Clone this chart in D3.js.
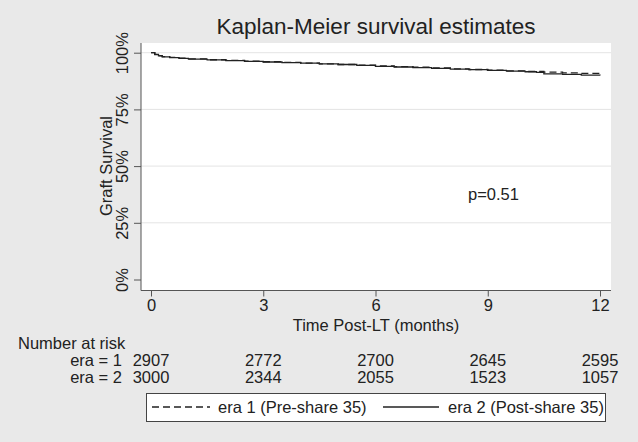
<!DOCTYPE html>
<html><head><meta charset="utf-8">
<script src="https://cdn.jsdelivr.net/npm/d3@7"></script>
<style>body{margin:0;background:#e9e9e9;}svg{display:block;font-family:"Liberation Sans",Arial,sans-serif;}</style>
</head><body>
<svg id="c" width="638" height="442"></svg>
<script>
// ---- data ----
const era1Time = [0,0.1,0.2,0.3,0.5,0.75,1,1.5,2,2.5,3,3.5,4,4.5,5,5.5,6,6.5,7,7.5,8,8.5,9,9.5,10,10.5,11,11.5,12];
const era1Surv = [1,0.993,0.987,0.983,0.979,0.976,0.973,0.969,0.966,0.963,0.960,0.957,0.954,0.951,0.948,0.945,0.942,0.939,0.936,0.933,0.929,0.926,0.923,0.920,0.917,0.914,0.911,0.909,0.906];
const era2Time = [0,0.1,0.2,0.3,0.5,0.75,1,1.5,2,2.5,3,3.5,4,4.5,5,5.5,6,6.5,7,7.5,8,8.5,9,9.5,10,10.3,10.5,11,11.5,12];
const era2Surv = [1,0.992,0.986,0.982,0.978,0.975,0.972,0.968,0.965,0.962,0.959,0.956,0.954,0.951,0.948,0.944,0.940,0.937,0.934,0.931,0.928,0.925,0.922,0.919,0.916,0.913,0.907,0.904,0.901,0.899];
const xTicks = [0,3,6,9,12];
const yTicks = [0,0.25,0.5,0.75,1];
const yTickLabels = ["0%","25%","50%","75%","100%"];
const riskLabels = ["era = 1","era = 2"];
const riskEra1 = [2907,2772,2700,2645,2595];
const riskEra2 = [3000,2344,2055,1523,1057];
const legendLabels = ["era 1 (Pre-share 35)","era 2 (Post-share 35)"];
const titleText = "Kaplan-Meier survival estimates";
const pText = "p=0.51";

// ---- drawing ----
const svg = d3.select("#c");
const ink = "#222";
const fs = 16.5;
const x = d3.scaleLinear().domain([0,12]).range([151,600]);
const y = d3.scaleLinear().domain([0,1]).range([279.5,52.7]);
const plot = {l:141, r:611, t:43, b:290.5};

svg.append("rect").attr("width",638).attr("height",442).attr("fill","#e9e9e9");
svg.append("rect").attr("x",plot.l).attr("y",plot.t).attr("width",plot.r-plot.l).attr("height",plot.b-plot.t).attr("fill","#fff");

// grid
svg.append("g").selectAll("line").data(yTicks.filter(d=>d>0)).join("line")
  .attr("x1",plot.l).attr("x2",plot.r).attr("y1",d=>y(d)).attr("y2",d=>y(d))
  .attr("stroke","#e4e4e4").attr("stroke-width",1);

// y axis
const yAxis = d3.axisLeft(y).tickValues(yTicks).tickSize(7).tickFormat((d,i)=>yTickLabels[i]);
const gy = svg.append("g").attr("transform",`translate(${plot.l},0)`).call(yAxis);
gy.select(".domain").attr("d",`M0,${plot.t}V${plot.b}`).attr("stroke","#555");
gy.selectAll(".tick line").attr("stroke","#555");
gy.selectAll(".tick text").attr("font-size",fs).attr("fill",ink)
  .attr("text-anchor","middle").attr("x",null).attr("y",null).attr("dy",0)
  .attr("transform","translate(-13,0) rotate(-90)");

// x axis
const xAxis = d3.axisBottom(x).tickValues(xTicks).tickSize(6).tickFormat(d3.format("d"));
const gx = svg.append("g").attr("transform",`translate(0,${plot.b})`).call(xAxis);
gx.select(".domain").attr("d",`M${plot.l},0H${plot.r}`).attr("stroke","#555");
gx.selectAll(".tick line").attr("stroke","#555");
gx.selectAll(".tick text").attr("font-size",fs).attr("fill",ink).attr("y",9).attr("dy","0.71em");

// titles
svg.append("text").attr("x",376).attr("y",34).attr("text-anchor","middle").attr("font-size",22.5).attr("fill",ink).text(titleText);
svg.append("text").attr("x",376).attr("y",331).attr("text-anchor","middle").attr("font-size",fs).attr("fill",ink).text("Time Post-LT (months)");
svg.append("text").attr("transform",`translate(112,166) rotate(-90)`).attr("text-anchor","middle").attr("font-size",fs).attr("fill",ink).text("Graft Survival");
svg.append("text").attr("x",468).attr("y",200).attr("font-size",fs).attr("fill",ink).text(pText);

// curves
const line = d3.line().x(d=>x(d[0])).y(d=>y(d[1])).curve(d3.curveStepAfter);
const s1 = era1Time.map((t,i)=>[t,era1Surv[i]]);
const s2 = era2Time.map((t,i)=>[t,era2Surv[i]]);
svg.append("path").datum(s2).attr("d",line).attr("fill","none").attr("stroke",ink).attr("stroke-width",1.3);
svg.append("path").datum(s1).attr("d",line).attr("fill","none").attr("stroke",ink).attr("stroke-width",1.3).attr("stroke-dasharray","7,4");

// number at risk
svg.append("text").attr("x",18).attr("y",349).attr("font-size",fs).attr("fill",ink).text("Number at risk");
[riskEra1,riskEra2].forEach((row,r)=>{
  const yy = 366 + r*17;
  svg.append("text").attr("x",122).attr("y",yy).attr("text-anchor","end").attr("font-size",fs).attr("fill",ink).text(riskLabels[r]);
  svg.append("g").selectAll("text").data(row).join("text")
    .attr("x",(d,i)=>x(xTicks[i])).attr("y",yy).attr("text-anchor","middle").attr("font-size",fs).attr("fill",ink).text(d=>d);
});

// legend
svg.append("rect").attr("x",146.5).attr("y",393.5).attr("width",459).attr("height",28).attr("fill","#fff").attr("stroke","#444");
svg.append("line").attr("x1",152).attr("x2",210).attr("y1",407).attr("y2",407).attr("stroke",ink).attr("stroke-width",1.3).attr("stroke-dasharray","7,4");
svg.append("text").attr("x",218).attr("y",413).attr("font-size",fs).attr("fill",ink).text(legendLabels[0]);
svg.append("line").attr("x1",383).attr("x2",439).attr("y1",407).attr("y2",407).attr("stroke",ink).attr("stroke-width",1.3);
svg.append("text").attr("x",448).attr("y",413).attr("font-size",fs).attr("fill",ink).text(legendLabels[1]);
</script>
</body></html>
